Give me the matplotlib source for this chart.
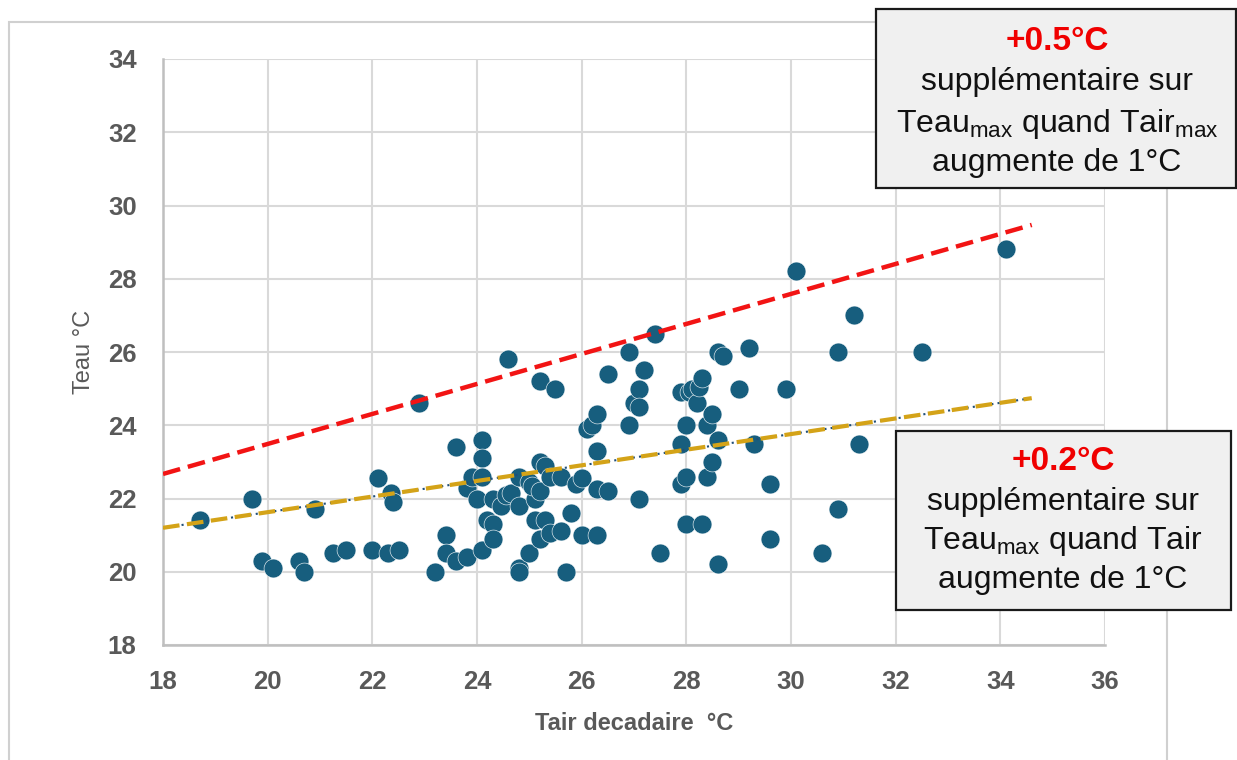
import matplotlib
matplotlib.use("Agg")
import matplotlib.pyplot as plt
from matplotlib.patches import Rectangle

plt.rcParams['font.family'] = ['Liberation Sans', 'DejaVu Sans']
plt.rcParams['mathtext.fontset'] = 'custom'
plt.rcParams['mathtext.rm'] = 'Liberation Sans'
plt.rcParams['mathtext.it'] = 'Liberation Sans:italic'
plt.rcParams['mathtext.bf'] = 'Liberation Sans:bold'

# ---------------- data ----------------
tair = [18.7, 19.7, 19.9, 20.1, 20.6, 20.7, 20.9, 21.25, 21.5, 22.0, 22.1, 22.3, 22.35, 22.4,
        22.5, 22.9, 23.2, 23.4, 23.4, 23.6, 23.6, 23.8, 23.8, 23.9, 24.0, 24.1, 24.1, 24.1,
        24.1, 24.2, 24.3, 24.3, 24.3, 24.45, 24.55, 24.65, 24.6, 24.8, 24.8, 24.8, 24.8,
        25.0, 25.0, 25.1, 25.1, 25.05, 25.2, 25.2, 25.2, 25.2, 25.3, 25.3, 25.4, 25.4, 25.5,
        25.6, 25.6, 25.7, 25.8, 25.9, 26.0, 26.0, 26.1, 26.2, 26.3, 26.3, 26.3, 26.3, 26.5,
        26.5, 26.9, 26.9, 27.0, 27.1, 27.1, 27.1, 27.2, 27.4, 27.5, 27.9, 27.9, 27.9, 28.0,
        28.0, 28.0, 28.05, 28.1, 28.2, 28.25, 28.3, 28.3, 28.4, 28.4, 28.5, 28.5, 28.6, 28.6,
        28.6, 28.7, 29.0, 29.2, 29.3, 29.6, 29.6, 29.9, 30.1, 30.6, 30.9, 30.9, 31.2, 31.3,
        32.5, 34.1]
teau = [21.4, 22.0, 20.3, 20.1, 20.3, 20.0, 21.7, 20.5, 20.6, 20.6, 22.55, 20.5, 22.15, 21.9,
        20.6, 24.6, 20.0, 21.0, 20.5, 23.4, 20.3, 22.3, 20.4, 22.6, 22.0, 23.6, 23.1, 22.6,
        20.6, 21.4, 21.3, 20.9, 22.0, 21.8, 22.1, 22.15, 25.8, 21.8, 22.6, 20.1, 20.0,
        22.45, 20.5, 22.0, 21.4, 22.35, 22.2, 25.2, 23.0, 20.9, 22.9, 21.4, 22.6, 21.05, 25.0,
        21.1, 22.6, 20.0, 21.6, 22.4, 22.55, 21.0, 23.9, 24.0, 24.3, 23.3, 22.25, 21.0, 25.4,
        22.2, 26.0, 24.0, 24.6, 25.0, 24.5, 22.0, 25.5, 26.5, 20.5, 24.9, 23.5, 22.4, 24.0,
        22.6, 21.3, 24.9, 25.0, 24.6, 25.05, 25.3, 21.3, 24.0, 22.6, 24.3, 23.0, 26.0, 23.6,
        20.2, 25.9, 25.0, 26.1, 23.5, 22.4, 20.9, 25.0, 28.2, 20.5, 26.0, 21.7, 27.0, 23.5,
        26.0, 28.8]

trend_x = [18.0, 34.6]
trend_max_y = [22.67, 29.47]   # red: Teau max vs Tair max
trend_dec_y = [21.2, 24.74]    # yellow: Teau max vs Tair decadaire

x_ticks = [18, 20, 22, 24, 26, 28, 30, 32, 34, 36]
y_ticks = [18, 20, 22, 24, 26, 28, 30, 32, 34]

W, H = 1237, 760
fig = plt.figure(figsize=(W / 100, H / 100), dpi=100)
fig.patch.set_facecolor('white')

# outer chart border
fig.patches.append(Rectangle((9 / W, 1 - 800 / H), (1167 - 9) / W, (800 - 22) / H,
                             transform=fig.transFigure, fill=False,
                             edgecolor='#d0d0d0', linewidth=1.5, clip_on=False))

ax = fig.add_axes([163 / W, 1 - 645 / H, (1105 - 163) / W, (645 - 59) / H])
ax.set_xlim(18, 36)
ax.set_ylim(18, 34)
ax.set_xticks(x_ticks)
ax.set_yticks(y_ticks)
ax.grid(True, color='#d9d9d9', linewidth=1.5, zorder=0)
ax.set_axisbelow(True)
for s in ['top', 'right']:
    ax.spines[s].set_visible(False)
for s in ['left', 'bottom']:
    ax.spines[s].set_color('#bfbfbf')
    ax.spines[s].set_linewidth(1.8)
ax.tick_params(length=0, labelsize=18.5, labelcolor='#595959', pad=0)
ax.tick_params(axis='x', pad=18)
ax.tick_params(axis='y', pad=19)
for lab in ax.get_xticklabels() + ax.get_yticklabels():
    lab.set_fontweight('bold')

ax.scatter(tair, teau, s=185, color='#175e7e', edgecolor='white', linewidth=0.4, zorder=3)

ax.plot(trend_x, trend_dec_y, color='#1f4e79', linewidth=1.5, linestyle=(0, (1, 2)), zorder=4)
ax.plot(trend_x, trend_dec_y, color='#d4a318', linewidth=3.0, linestyle=(0, (4, 1.8)), zorder=5)
ax.plot(trend_x, trend_max_y, color='#f21414', linewidth=3.2, linestyle=(0, (4, 1.8)), zorder=5)

ax.set_xlabel('Tair decadaire  °C', fontsize=17, fontweight='bold', color='#595959')
ax.set_ylabel('Teau °C', fontsize=17, color='#595959')
ax.xaxis.set_label_coords(0.5, (645 - 723) / 586)
ax.yaxis.set_label_coords((84 - 163) / 942, 0.5)
ax.xaxis.label.set_va('center')
ax.yaxis.label.set_va('center')


def box(x0, y0, x1, y1, lines_y, cx, head, l3):
    fig.patches.append(Rectangle((x0 / W, 1 - y1 / H), (x1 - x0) / W, (y1 - y0) / H,
                                 transform=fig.transFigure, facecolor='#f0f0f0',
                                 edgecolor='#1a1a1a', linewidth=1.6, zorder=10))
    fig.text(cx / W, 1 - lines_y[0] / H, head, color='#f00000', fontsize=24,
             fontweight='bold', ha='center', va='center', zorder=11)
    fig.text(cx / W, 1 - lines_y[1] / H, 'supplémentaire sur', color='#111111',
             fontsize=23, ha='center', va='center', zorder=11)
    fig.text(cx / W, 1 - lines_y[2] / H, l3, color='#111111',
             fontsize=23, ha='center', va='center', zorder=11)
    fig.text(cx / W, 1 - lines_y[3] / H, 'augmente de 1°C', color='#111111',
             fontsize=23, ha='center', va='center', zorder=11)


box(876, 9, 1236, 188, [42, 82, 124, 163], 1057, '+0.5°C',
    r'Teau$_{\mathrm{max}}$ quand Tair$_{\mathrm{max}}$')
box(896, 431, 1231, 610, [462, 502, 541, 580], 1063, '+0.2°C',
    r'Teau$_{\mathrm{max}}$ quand Tair')

fig.savefig('out.png', dpi=100)
